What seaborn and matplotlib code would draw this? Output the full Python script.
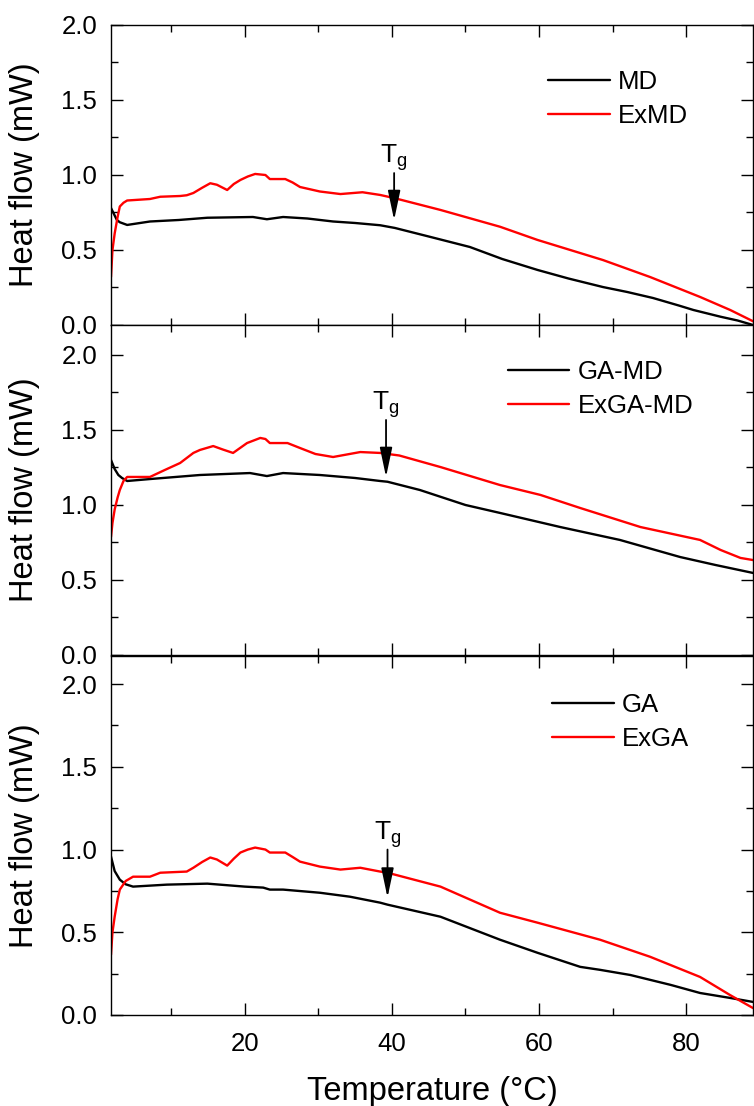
import numpy as np
import pandas as pd
import matplotlib
matplotlib.use("Agg")
import matplotlib.pyplot as plt
from matplotlib.ticker import MultipleLocator
import seaborn as sns

# ---- data (temperature in degC, heat flow in mW) ----
temp_md = [1.8, 2.2, 2.6, 3.0, 4.0, 7.1, 11.0, 14.9, 21.1, 23.0, 25.2, 28.5, 32.0,
           35.0, 38.4, 40.4, 45.0, 50.6, 55.0, 59.8, 64.0, 68.7, 72.0, 75.5, 79.0,
           81.0, 84.7, 87.0, 89.1]
hf_md = [0.78, 0.74, 0.70, 0.685, 0.667, 0.69, 0.70, 0.715, 0.72, 0.705, 0.72, 0.71,
         0.69, 0.68, 0.665, 0.647, 0.59, 0.52, 0.44, 0.367, 0.31, 0.253, 0.22, 0.18,
         0.13, 0.10, 0.055, 0.03, 0.0]

temp_exmd = [1.8, 2.0, 2.3, 2.7, 3.0, 3.5, 4.0, 7.1, 8.5, 11.2, 12.1, 13.0, 14.2, 15.3,
             16.2, 17.6, 18.5, 19.4, 20.4, 21.4, 22.8, 23.4, 25.5, 26.5, 27.5, 30.2,
             33.0, 36.0, 38.4, 40.4, 46.6, 54.7, 59.8, 68.7, 75.1, 81.9, 86.0, 89.1]
hf_exmd = [0.32, 0.50, 0.61, 0.72, 0.79, 0.815, 0.83, 0.84, 0.855, 0.86, 0.865, 0.88,
           0.915, 0.945, 0.935, 0.90, 0.94, 0.967, 0.99, 1.007, 1.00, 0.973, 0.973,
           0.95, 0.92, 0.89, 0.873, 0.885, 0.867, 0.845, 0.767, 0.655, 0.567, 0.433,
           0.32, 0.187, 0.10, 0.025]

temp_gamd = [1.8, 2.3, 2.8, 3.3, 4.0, 7.1, 13.9, 20.7, 23.0, 25.2, 30.2, 35.0, 38.4,
             39.4, 43.8, 50.0, 54.7, 62.9, 71.0, 79.2, 84.0, 89.1]
hf_gamd = [1.30, 1.24, 1.20, 1.18, 1.16, 1.173, 1.20, 1.213, 1.193, 1.213, 1.20, 1.18,
           1.16, 1.155, 1.10, 1.00, 0.947, 0.853, 0.767, 0.653, 0.60, 0.547]

temp_exgamd = [1.8, 2.0, 2.3, 2.7, 3.0, 3.5, 4.0, 7.1, 9.1, 11.2, 13.0, 13.9, 15.7,
               17.0, 18.4, 20.3, 22.1, 22.8, 23.4, 25.8, 27.5, 29.6, 32.0, 35.7, 38.4,
               41.0, 46.6, 54.7, 60.2, 65.6, 73.8, 81.9, 84.7, 87.4, 89.1]
hf_exgamd = [0.787, 0.88, 0.97, 1.05, 1.10, 1.16, 1.187, 1.187, 1.233, 1.28, 1.347,
             1.367, 1.393, 1.37, 1.347, 1.413, 1.447, 1.44, 1.413, 1.413, 1.38, 1.34,
             1.32, 1.353, 1.347, 1.33, 1.253, 1.133, 1.067, 0.98, 0.853, 0.767, 0.70,
             0.647, 0.633]

temp_ga = [1.8, 2.3, 3.0, 3.8, 4.8, 9.4, 14.9, 20.0, 22.5, 23.4, 25.2, 30.2, 34.3,
           38.4, 39.4, 46.6, 54.7, 59.8, 65.6, 68.3, 72.4, 77.9, 81.9, 86.0, 89.1]
hf_ga = [0.958, 0.87, 0.818, 0.79, 0.776, 0.788, 0.794, 0.776, 0.77, 0.758, 0.758,
         0.739, 0.715, 0.679, 0.667, 0.594, 0.455, 0.376, 0.291, 0.273, 0.242, 0.182,
         0.133, 0.103, 0.079]

temp_exga = [1.8, 2.0, 2.3, 2.7, 3.0, 3.8, 4.8, 7.1, 8.5, 12.1, 13.0, 14.2, 15.3, 16.2,
             17.6, 18.5, 19.4, 20.4, 21.4, 22.8, 23.4, 25.5, 26.5, 27.5, 30.2, 33.0,
             35.7, 38.4, 39.4, 46.6, 54.7, 59.8, 68.3, 75.1, 81.9, 86.0, 89.1]
hf_exga = [0.364, 0.50, 0.594, 0.70, 0.758, 0.81, 0.836, 0.836, 0.86, 0.867, 0.89,
           0.925, 0.952, 0.94, 0.903, 0.945, 0.982, 1.0, 1.012, 1.00, 0.982, 0.982,
           0.955, 0.927, 0.897, 0.879, 0.89, 0.867, 0.86, 0.776, 0.618, 0.558, 0.455,
           0.352, 0.23, 0.12, 0.042]

# panel settings: (names, (x, y) pairs, ylim top, Tg arrow x, arrow start/end y)
panels = [
    (["MD", "ExMD"], [(temp_md, hf_md), (temp_exmd, hf_exmd)], 2.0, 40.3, 1.013, 0.70),
    (["GA-MD", "ExGA-MD"], [(temp_gamd, hf_gamd), (temp_exgamd, hf_exgamd)], 2.2, 39.2, 1.567, 1.187),
    (["GA", "ExGA"], [(temp_ga, hf_ga), (temp_exga, hf_exga)], 2.17, 39.4, 1.0, 0.71),
]
legend_pos = [(0.681, 0.85), (0.618, 0.895), (0.687, 0.898)]
colors = ["black", "#ff0000"]

sns.set_style("ticks")
plt.rcParams["font.family"] = ["Liberation Sans", "DejaVu Sans"]
plt.rcParams["mathtext.fontset"] = "custom"
plt.rcParams["mathtext.rm"] = "Liberation Sans"
plt.rcParams["mathtext.it"] = "Liberation Sans"
plt.rcParams["text.color"] = "black"
plt.rcParams["axes.labelcolor"] = "black"

fig = plt.figure(figsize=(7.54, 11.06), dpi=100)
boxes = [[0.1472, 0.70615, 0.8515, 0.27125],
         [0.1472, 0.40778, 0.8515, 0.29837],
         [0.1472, 0.08228, 0.8515, 0.32459]]

for i, (names, series, ytop, tg_x, y0, y1) in enumerate(panels):
    ax = fig.add_axes(boxes[i])
    for name, (tx, hy), c in zip(names, series, colors):
        df = pd.DataFrame({"T": tx, "HF": hy})
        sns.lineplot(data=df, x="T", y="HF", ax=ax, color=c, lw=1.7, label=name)
    ax.set_xlim(1.8, 89.1)
    ax.set_ylim(0, ytop)
    ax.xaxis.set_major_locator(MultipleLocator(20))
    ax.xaxis.set_minor_locator(MultipleLocator(10))
    ax.yaxis.set_major_locator(MultipleLocator(0.5))
    ax.yaxis.set_minor_locator(MultipleLocator(0.25))
    ax.tick_params(which="both", direction="in", top=True, right=True, width=1.0,
                   labelsize=18.5, color="black", labelcolor="black")
    ax.tick_params(which="major", length=8.5)
    ax.tick_params(which="minor", length=5)
    ax.tick_params(axis="y", pad=10)
    ax.tick_params(axis="x", pad=12)
    ax.yaxis.set_major_formatter(matplotlib.ticker.FormatStrFormatter("%.1f"))
    for s in ax.spines.values():
        s.set_linewidth(1.0)
        s.set_color("black")
    ax.set_ylabel("Heat flow (mW)", fontsize=23.5)
    ax.yaxis.set_label_coords(-0.11, 0.5)
    if i < 2:
        ax.tick_params(axis="x", labelbottom=False)
        ax.set_xlabel("")
    else:
        ax.set_xlabel("Temperature (°C)", fontsize=23.5, labelpad=15)
    ax.annotate("", xy=(tg_x, y1), xytext=(tg_x, y0),
                arrowprops=dict(arrowstyle="-|>,head_length=1.8,head_width=0.38",
                                color="black", lw=1.3, shrinkA=0, shrinkB=0))
    ax.text(tg_x, y0, r"$\mathregular{T_g}$", fontsize=19,
            ha="center", va="bottom")
    ax.legend(loc="upper left", bbox_to_anchor=legend_pos[i], frameon=False,
              fontsize=18.5, handlelength=2.4, handletextpad=0.31, labelspacing=0.4,
              borderaxespad=0, borderpad=0)

fig.savefig("out.png", dpi=100)
